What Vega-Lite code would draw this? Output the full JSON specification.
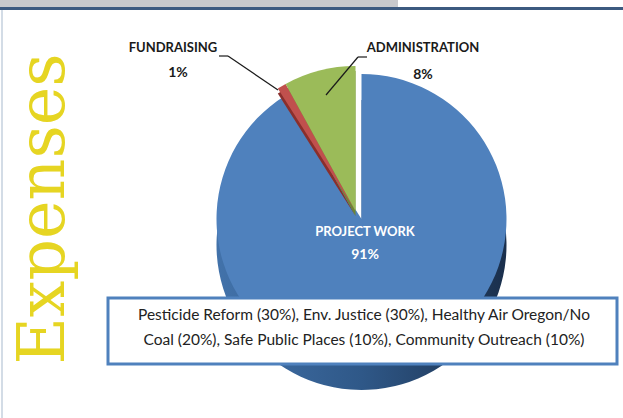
{
  "$schema": "https://vega.github.io/schema/vega-lite/v6.json",
  "width": 523,
  "height": 398,
  "autosize": {"type": "none"},
  "padding": {"left": 100, "top": 20, "right": 0, "bottom": 0},
  "background": "white",
  "config": {"view": {"stroke": null}},
  "title": {
    "text": "Expenses",
    "orient": "left",
    "anchor": "middle",
    "font": "DejaVu Serif",
    "fontSize": 65,
    "fontWeight": "normal",
    "color": "#E6D522",
    "offset": -78,
    "dx": 10
  },
  "data": {
    "values": [
      {"category": "Project WORK", "share": 91},
      {"category": "Fundraising", "share": 1},
      {"category": "Administration", "share": 8}
    ]
  },
  "layer": [
    {
      "data": {"values": [{}]},
      "mark": {"type": "rect", "color": "#C8C9CC"},
      "encoding": {"x": {"value": -100}, "x2": {"value": 298}, "y": {"value": -20}, "y2": {"value": -13}}
    },
    {
      "data": {"values": [{}]},
      "mark": {"type": "rect", "color": "#3C5A80"},
      "encoding": {"x": {"value": -100}, "x2": {"value": 523}, "y": {"value": -13}, "y2": {"value": -10}}
    },
    {
      "data": {"values": [{}]},
      "mark": {"type": "rect", "color": "#D3DCE6"},
      "encoding": {"x": {"value": -99}, "x2": {"value": -97}, "y": {"value": -10}, "y2": {"value": 398}}
    },
    {
      "mark": {
        "type": "arc",
        "radius": 145,
        "yOffset": 26,
        "fill": {
          "gradient": "linear", "x1": 0, "x2": 1, "y1": 0, "y2": 0,
          "stops": [
            {"offset": 0, "color": "#4272AA"},
            {"offset": 0.5, "color": "#2F5888"},
            {"offset": 1, "color": "#1A2F4C"}
          ]
        }
      },
      "encoding": {
        "theta": {"field": "share", "type": "quantitative", "stack": true},
        "fillOpacity": {"condition": {"test": "datum.category === 'Project WORK'", "value": 1}, "value": 0}
      }
    },
    {
      "mark": {"type": "arc", "radius": 145, "fill": "#4F81BD"},
      "encoding": {
        "theta": {"field": "share", "type": "quantitative", "stack": true},
        "fillOpacity": {"condition": {"test": "datum.category === 'Project WORK'", "value": 1}, "value": 0}
      }
    },
    {
      "mark": {"type": "arc", "radius": 145, "xOffset": -6, "yOffset": -3},
      "encoding": {
        "theta": {"field": "share", "type": "quantitative", "stack": true},
        "fill": {"condition": {"test": "datum.category === 'Fundraising'", "value": "#8A2F2C"}, "value": "#6B8636"},
        "fillOpacity": {"condition": {"test": "datum.category === 'Project WORK'", "value": 0}, "value": 1}
      }
    },
    {
      "mark": {"type": "arc", "radius": 145, "xOffset": -6, "yOffset": -8},
      "encoding": {
        "theta": {"field": "share", "type": "quantitative", "stack": true},
        "fill": {"condition": {"test": "datum.category === 'Fundraising'", "value": "#C0504D"}, "value": "#9BBB59"},
        "fillOpacity": {"condition": {"test": "datum.category === 'Project WORK'", "value": 0}, "value": 1}
      }
    },
    {
      "transform": [{"filter": "datum.category === 'Project WORK'"}, {"calculate": "upper(datum.category)", "as": "label"}],
      "mark": {"type": "text", "radius": 0, "dx": 3.5, "dy": 13, "font": "Lato", "fontSize": 13, "fontWeight": "bold", "color": "white", "align": "center", "baseline": "middle"},
      "encoding": {"theta": {"field": "share", "type": "quantitative", "stack": true}, "text": {"field": "label"}}
    },
    {
      "transform": [{"filter": "datum.category === 'Project WORK'"}, {"calculate": "datum.share + '%'", "as": "pct"}],
      "mark": {"type": "text", "radius": 0, "dx": 3.5, "dy": 36, "font": "Lato", "fontSize": 14, "fontWeight": "bold", "color": "white", "align": "center", "baseline": "middle"},
      "encoding": {"theta": {"field": "share", "type": "quantitative", "stack": true}, "text": {"field": "pct"}}
    },
    {
      "transform": [{"filter": "datum.category === 'Fundraising'"}, {"calculate": "upper(datum.category)", "as": "label"}],
      "mark": {"type": "text", "radius": 0, "dx": -188.5, "dy": -171, "font": "Lato", "fontSize": 13, "fontWeight": "bold", "color": "#1A1A1A", "align": "center", "baseline": "middle"},
      "encoding": {"theta": {"field": "share", "type": "quantitative", "stack": true}, "text": {"field": "label"}}
    },
    {
      "transform": [{"filter": "datum.category === 'Fundraising'"}, {"calculate": "datum.share + '%'", "as": "pct"}],
      "mark": {"type": "text", "radius": 0, "dx": -183.5, "dy": -146, "font": "Lato", "fontSize": 14, "fontWeight": "bold", "color": "#1A1A1A", "align": "center", "baseline": "middle"},
      "encoding": {"theta": {"field": "share", "type": "quantitative", "stack": true}, "text": {"field": "pct"}}
    },
    {
      "transform": [{"filter": "datum.category === 'Administration'"}, {"calculate": "upper(datum.category)", "as": "label"}],
      "mark": {"type": "text", "radius": 0, "dx": 61.5, "dy": -171, "font": "Lato", "fontSize": 13, "fontWeight": "bold", "color": "#1A1A1A", "align": "center", "baseline": "middle"},
      "encoding": {"theta": {"field": "share", "type": "quantitative", "stack": true}, "text": {"field": "label"}}
    },
    {
      "transform": [{"filter": "datum.category === 'Administration'"}, {"calculate": "datum.share + '%'", "as": "pct"}],
      "mark": {"type": "text", "radius": 0, "dx": 61.5, "dy": -144, "font": "Lato", "fontSize": 14, "fontWeight": "bold", "color": "#1A1A1A", "align": "center", "baseline": "middle"},
      "encoding": {"theta": {"field": "share", "type": "quantitative", "stack": true}, "text": {"field": "pct"}}
    },
    {
      "data": {"values": [{}]},
      "mark": {"type": "rule", "color": "#1A1A1A", "strokeWidth": 1.2},
      "encoding": {"x": {"value": 119}, "x2": {"value": 128}, "y": {"value": 36}, "y2": {"value": 36}}
    },
    {
      "data": {"values": [{}]},
      "mark": {"type": "rule", "color": "#1A1A1A", "strokeWidth": 1.2},
      "encoding": {"x": {"value": 128}, "x2": {"value": 178}, "y": {"value": 36}, "y2": {"value": 70}}
    },
    {
      "data": {"values": [{}]},
      "mark": {"type": "rule", "color": "#1A1A1A", "strokeWidth": 1.2},
      "encoding": {"x": {"value": 258}, "x2": {"value": 267}, "y": {"value": 37}, "y2": {"value": 37}}
    },
    {
      "data": {"values": [{}]},
      "mark": {"type": "rule", "color": "#1A1A1A", "strokeWidth": 1.2},
      "encoding": {"x": {"value": 258}, "x2": {"value": 226}, "y": {"value": 37}, "y2": {"value": 75}}
    },
    {
      "data": {"values": [{}]},
      "mark": {"type": "rect", "fill": "white", "stroke": "#4F81BD", "strokeWidth": 3},
      "encoding": {"x": {"value": 8}, "x2": {"value": 517}, "y": {"value": 278}, "y2": {"value": 344}}
    },
    {
      "data": {"values": [{"note": "Pesticide Reform (30%), Env. Justice (30%), Healthy Air Oregon/No\nCoal (20%), Safe Public Places (10%), Community Outreach (10%)"}]},
      "mark": {"type": "text", "font": "Lato", "fontSize": 15.5, "color": "#222222", "align": "center", "baseline": "middle", "lineBreak": "\n", "lineHeight": 25},
      "encoding": {"x": {"value": 264}, "y": {"value": 295}, "text": {"field": "note"}}
    }
  ]
}
